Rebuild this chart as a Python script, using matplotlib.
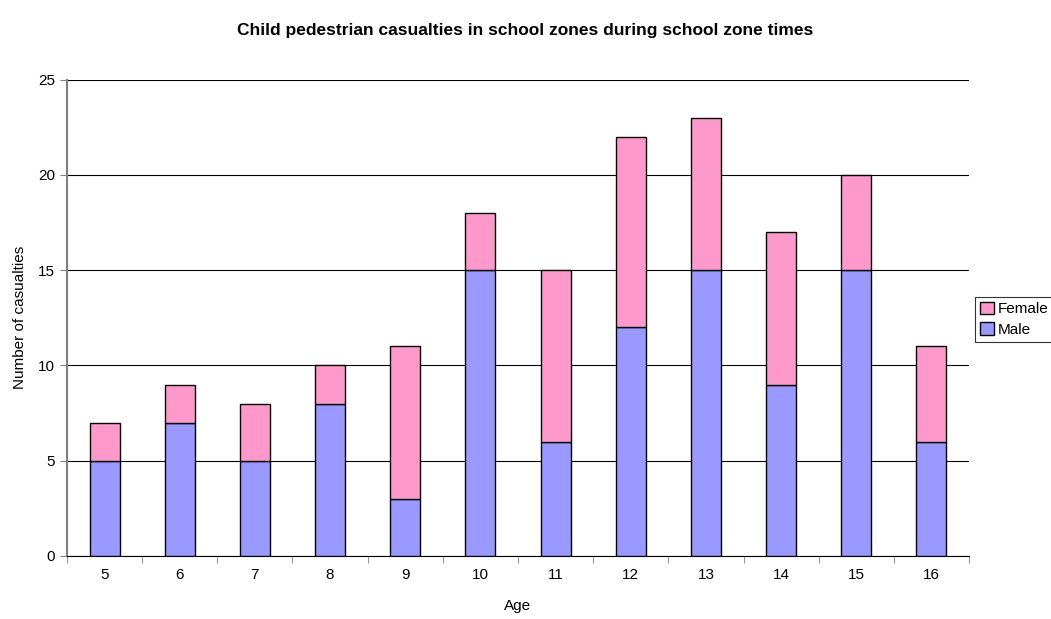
import matplotlib.pyplot as plt
import numpy as np

ages = ['5', '6', '7', '8', '9', '10', '11', '12', '13', '14', '15', '16']
male = [5, 7, 5, 8, 3, 15, 6, 12, 15, 9, 15, 6]
female = [2, 2, 3, 2, 8, 3, 9, 10, 8, 8, 5, 5]

plt.rcParams['font.family'] = ['Liberation Sans', 'DejaVu Sans']

fig = plt.figure(figsize=(10.51, 6.19), dpi=100)
ax = fig.add_axes([0.0637, 0.1018, 0.8583, 0.7694])

x = np.arange(len(ages))
b1 = ax.bar(x, male, width=0.4, color='#9999ff', edgecolor='black', linewidth=1, label='Male', zorder=3)
b2 = ax.bar(x, female, width=0.4, bottom=male, color='#ff99cc', edgecolor='black', linewidth=1,
            label='Female', zorder=3)

ax.set_xlim(-0.5, len(ages) - 0.5)
ax.set_ylim(0, 25)
ax.set_yticks(range(0, 26, 5))
ax.yaxis.grid(True, color='black', linewidth=0.8, zorder=0)
ax.set_xticks(x)
ax.set_xticklabels(ages)
ax.set_xticks(np.arange(-0.5, len(ages), 1), minor=True)
ax.tick_params(axis='x', which='major', length=0, labelsize=11, pad=9)
ax.tick_params(axis='x', which='minor', length=5, color='gray')
ax.tick_params(axis='y', length=5, color='gray', labelsize=11)

for s in ['top', 'right']:
    ax.spines[s].set_visible(False)
ax.spines['left'].set_color('gray')
ax.spines['left'].set_linewidth(1.5)
ax.spines['bottom'].set_color('black')

ax.set_xlabel('Age', fontsize=11, labelpad=12)
ax.set_ylabel('Number of casualties', fontsize=11, labelpad=8)
fig.suptitle('Child pedestrian casualties in school zones during school zone times',
             fontsize=12.5, fontweight='bold', y=0.963)

leg = fig.legend([b2, b1], ['Female', 'Male'], loc='center left', bbox_to_anchor=(0.928, 0.484),
                 frameon=True, fancybox=False, edgecolor='black', fontsize=11,
                 handlelength=0.9, handleheight=0.9, handletextpad=0.3, borderpad=0.3,
                 labelspacing=0.4, borderaxespad=0)
leg.get_frame().set_linewidth(0.8)

fig.savefig('out.png', dpi=100)
